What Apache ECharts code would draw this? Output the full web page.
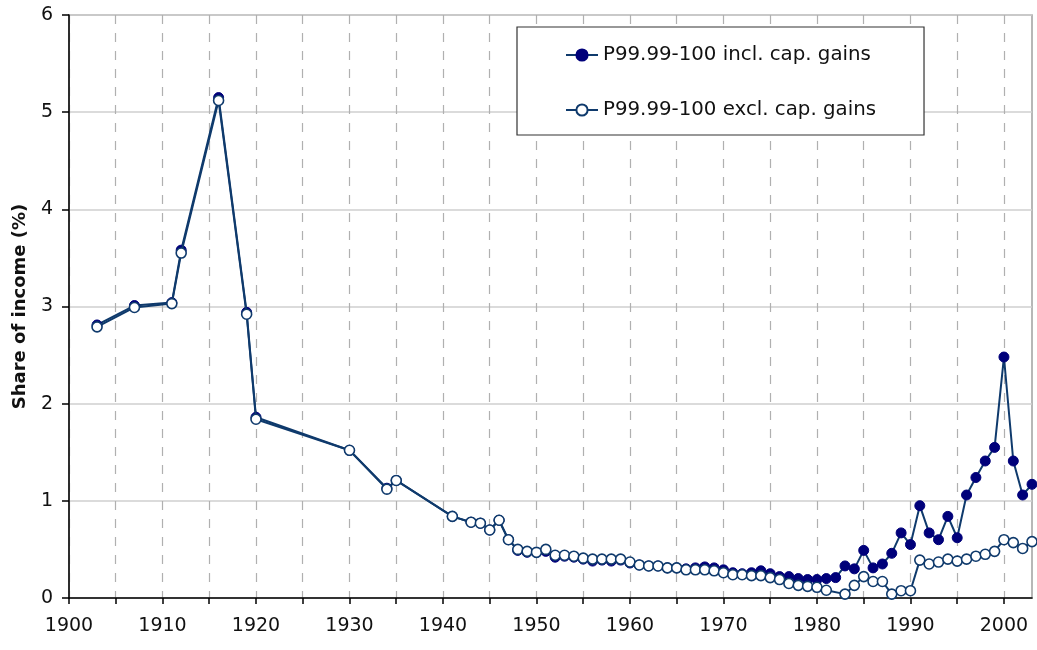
<!DOCTYPE html>
<html>
<head>
<meta charset="utf-8">
<script src="https://cdn.jsdelivr.net/npm/echarts@6/dist/echarts.min.js"></script>
<style>
  html, body { margin: 0; padding: 0; background: #fff; }
  #chart { width: 1037px; height: 650px; }
</style>
</head>
<body>
<div id="chart"></div>
<script>
// 年份（部分年份缺失）
const years = [1903, 1907, 1911, 1912, 1916, 1919, 1920, 1930, 1934, 1935, 1941,
  1943, 1944, 1945, 1946, 1947, 1948, 1949, 1950, 1951, 1952, 1953, 1954,
  1955, 1956, 1957, 1958, 1959, 1960, 1961, 1962, 1963, 1964, 1965, 1966,
  1967, 1968, 1969, 1970, 1971, 1972, 1973, 1974, 1975, 1976, 1977, 1978,
  1979, 1980, 1981, 1982, 1983, 1984, 1985, 1986, 1987, 1988, 1989, 1990,
  1991, 1992, 1993, 1994, 1995, 1996, 1997, 1998, 1999, 2000, 2001, 2002, 2003];

// P99.99-100 含资本利得
const inclCapGains = [2.81, 3.01, 3.04, 3.58, 5.15, 2.94, 1.86, 1.52, 1.13, 1.21, 0.84,
  0.78, 0.77, 0.70, 0.80, 0.60, 0.49, 0.47, 0.47, 0.48, 0.42, 0.43, 0.42,
  0.40, 0.38, 0.39, 0.38, 0.39, 0.36, 0.34, 0.33, 0.33, 0.31, 0.31, 0.30,
  0.31, 0.32, 0.31, 0.29, 0.26, 0.25, 0.26, 0.28, 0.25, 0.22, 0.22, 0.20,
  0.19, 0.19, 0.20, 0.21, 0.33, 0.30, 0.49, 0.31, 0.35, 0.46, 0.67, 0.55,
  0.95, 0.67, 0.60, 0.84, 0.62, 1.06, 1.24, 1.41, 1.55, 2.48, 1.41, 1.06, 1.17];

// P99.99-100 不含资本利得（1982 缺失）
const exclCapGains = [2.79, 2.99, 3.03, 3.55, 5.12, 2.92, 1.84, 1.52, 1.12, 1.21, 0.84,
  0.78, 0.77, 0.70, 0.80, 0.60, 0.50, 0.48, 0.47, 0.50, 0.44, 0.44, 0.43,
  0.41, 0.40, 0.40, 0.40, 0.40, 0.37, 0.34, 0.33, 0.33, 0.31, 0.31, 0.29,
  0.29, 0.29, 0.28, 0.26, 0.24, 0.24, 0.23, 0.23, 0.21, 0.19, 0.15, 0.13,
  0.12, 0.11, 0.08, null, 0.04, 0.13, 0.22, 0.17, 0.17, 0.04, 0.075, 0.075,
  0.39, 0.35, 0.37, 0.40, 0.38, 0.40, 0.43, 0.45, 0.48, 0.60, 0.57, 0.51, 0.58];

const seriesNames = ['P99.99-100 incl. cap. gains', 'P99.99-100 excl. cap. gains'];
const xTicks = [];
for (let y = 1900; y <= 2000; y += 5) xTicks.push(y);
const xLabels = xTicks.filter(y => y % 10 === 0);

const FONT = 'DejaVu Sans';
const LINE_COLOR = '#0f3a6c';

const chart = echarts.init(document.getElementById('chart'));

const toPairs = vals => years.map((y, i) => [y, vals[i]]);

const option = {
    animation: false,
    textStyle: { fontFamily: FONT },
    grid: {
        left: 69, right: 5, top: 15, bottom: 52,
        show: true,
        borderColor: '#a0a0a0',
        borderWidth: 1.5,
        backgroundColor: '#fff'
    },
    legend: {
        data: seriesNames,
        orient: 'vertical',
        left: 517,
        top: 27,
        padding: [18, 48, 15, 48],
        itemGap: 35,
        itemWidth: 32,
        itemHeight: 14,
        backgroundColor: '#fff',
        borderColor: '#333',
        borderWidth: 1.2,
        borderRadius: 0,
        textStyle: { fontFamily: FONT, fontSize: 19.8, color: '#111' }
    },
    xAxis: {
        type: 'value',
        min: 1900,
        max: 2003,
        interval: 5,
        axisLine: { show: true, onZero: false, lineStyle: { color: '#000', width: 1.5 } },
        axisTick: { show: true, length: 6, customValues: xTicks, lineStyle: { color: '#000', width: 1.5 } },
        axisLabel: {
            customValues: xLabels,
            formatter: v => String(v),
            margin: 19,
            fontSize: 19,
            color: '#111',
            fontFamily: FONT
        },
        splitLine: {
            show: true,
            lineStyle: { color: '#b0b0b0', type: [9, 9], width: 1.2 }
        }
    },
    yAxis: {
        type: 'value',
        min: 0,
        max: 6,
        interval: 1,
        name: 'Share of income (%)',
        nameLocation: 'middle',
        nameGap: 40,
        nameTextStyle: { fontFamily: FONT, fontSize: 18, fontWeight: 'bold', color: '#111' },
        axisLine: { show: true, lineStyle: { color: '#000', width: 1.5 } },
        axisTick: { show: true, length: 7, lineStyle: { color: '#000', width: 1.5 } },
        axisLabel: { margin: 16, fontSize: 19, color: '#111', fontFamily: FONT },
        splitLine: { show: true, lineStyle: { color: '#cfcfcf', width: 1.5 } }
    },
    series: [
        {
            name: seriesNames[0],
            type: 'line',
            data: toPairs(inclCapGains),
            connectNulls: true,
            clip: false,
            symbol: 'circle',
            symbolSize: 10,
            lineStyle: { color: LINE_COLOR, width: 2 },
            itemStyle: { color: '#00007a', borderColor: '#00007a', borderWidth: 1 },
            z: 3
        },
        {
            name: seriesNames[1],
            type: 'line',
            data: toPairs(exclCapGains),
            connectNulls: true,
            clip: false,
            symbol: 'circle',
            symbolSize: 10,
            lineStyle: { color: LINE_COLOR, width: 2 },
            itemStyle: { color: '#fff', borderColor: '#0f3a6c', borderWidth: 1.6 },
            z: 4
        }
    ]
};

chart.setOption(option);
</script>
</body>
</html>
